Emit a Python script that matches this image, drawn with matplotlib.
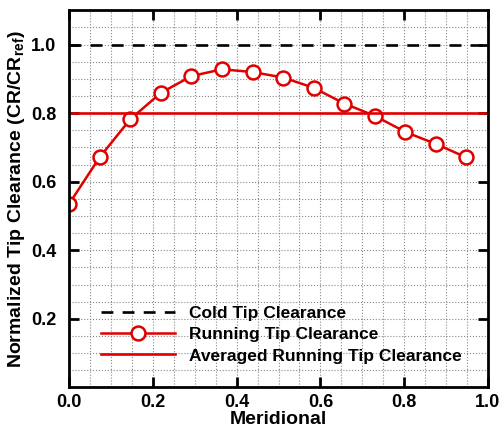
import matplotlib.pyplot as plt
import numpy as np

plt.rcParams['font.family'] = ['Liberation Sans', 'DejaVu Sans']
plt.rcParams['font.weight'] = 'bold'

# running tip clearance along meridional coordinate
merid = [0.0, 0.073, 0.146, 0.219, 0.292, 0.365, 0.438, 0.511, 0.584,
         0.657, 0.730, 0.803, 0.876, 0.948]
running = [0.535, 0.671, 0.782, 0.859, 0.908, 0.928, 0.920, 0.904, 0.874,
           0.828, 0.792, 0.745, 0.710, 0.671]
cold = 1.0
averaged = 0.8

red = '#e00000'

fig = plt.figure(figsize=(5, 4.3), dpi=100)
ax = fig.add_axes([0.138, 0.099, 0.838, 0.877])

ax.axhline(cold, color='black', ls=(0, (4.5, 3.5)), lw=1.9, label='Cold Tip Clearance')
ax.plot(merid, running, color=red, lw=1.8, marker='o', ms=10, mfc='white',
        mec=red, mew=1.8, label='Running Tip Clearance')
ax.axhline(averaged, color=red, lw=1.9, label='Averaged Running Tip Clearance')

ax.set_xlim(0, 1.0)
ax.set_ylim(0, 1.1)
ax.set_xticks(np.arange(0, 1.01, 0.2))
ax.set_yticks([0.2, 0.4, 0.6, 0.8, 1.0])
ax.set_xticks(np.arange(0, 1.01, 0.05), minor=True)
ax.set_yticks(np.arange(0, 1.11, 0.05), minor=True)
ax.xaxis.set_major_formatter(plt.FormatStrFormatter('%.1f'))
ax.yaxis.set_major_formatter(plt.FormatStrFormatter('%.1f'))
ax.grid(which='both', color='#888888', ls=':', lw=0.8)
ax.tick_params(which='major', direction='in', length=7, width=2,
               top=True, right=True, labelsize=13)
ax.tick_params(axis='y', which='major', pad=9)
ax.tick_params(axis='x', which='major', pad=5)
ax.tick_params(which='minor', length=0)
for s in ax.spines.values():
    s.set_linewidth(2)
for lbl in ax.get_xticklabels() + ax.get_yticklabels():
    lbl.set_fontweight('bold')

ax.set_xlabel('Meridional', fontsize=14, fontweight='bold', labelpad=0)
ax.set_ylabel(r'Normalized Tip Clearance (CR/CR$_\mathregular{ref}$)',
              fontsize=14, fontweight='bold', labelpad=3)

ax.legend(loc='upper left', bbox_to_anchor=(0.055, 0.24), frameon=False,
          fontsize=12.5, handlelength=4.3, handletextpad=0.8,
          labelspacing=0.36, borderpad=0)

fig.savefig('out.png')
